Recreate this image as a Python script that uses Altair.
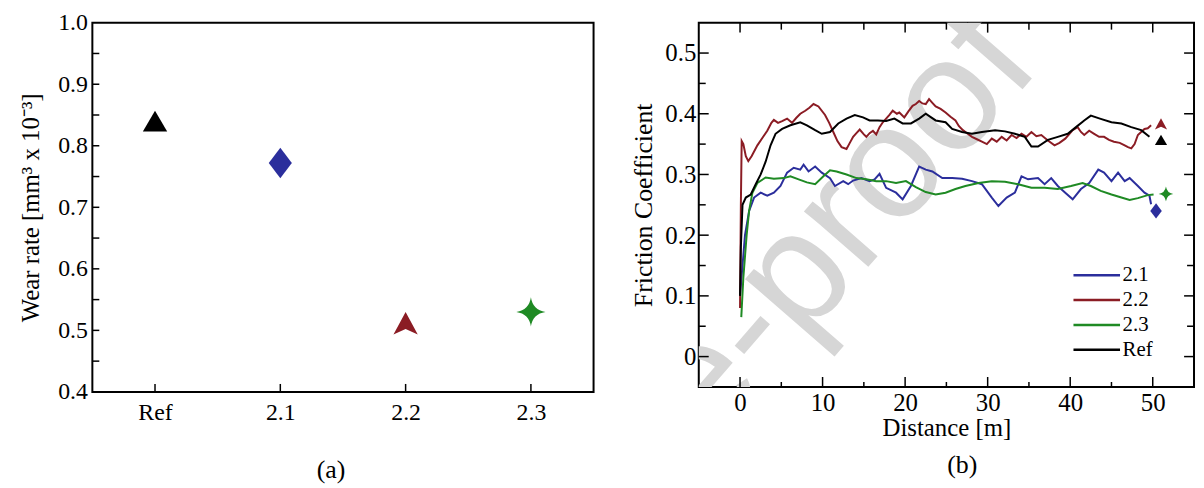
import altair as alt
import pandas as pd

# ---------------- data: panel (a) ----------------
samples_a = ["Ref", "2.1", "2.2", "2.3"]
wear_rate = [0.840, 0.772, 0.511, 0.530]
ya_labels = [0.4, 0.5, 0.6, 0.7, 0.8, 0.9, 1.0]
ya_ticks = [0.45, 0.5, 0.55, 0.6, 0.65, 0.7, 0.75, 0.8, 0.85, 0.9, 0.95]

# ---------------- data: panel (b) ----------------
series = ["2.1", "2.2", "2.3", "Ref"]
series_colors = ["#2b2e9c", "#8b1c24", "#1f8a24", "#000000"]

d_21 = [0.0, 0.3, 0.6, 1.1, 1.7, 2.5, 3.3, 4.1, 4.9, 5.7, 6.5, 7.3, 7.7, 8.3, 9.1,
        9.9, 10.9, 11.5, 12.5, 13.1, 13.7, 14.7, 15.7, 16.3, 16.9, 17.7, 18.9, 19.7,
        20.7, 21.7, 22.5, 23.3, 24.5, 25.7, 26.9, 28.1, 29.3, 30.5, 31.3, 32.3, 33.3,
        34.1, 34.9, 36.1, 36.9, 37.7, 38.5, 39.4, 40.3, 41.3, 42.3, 43.4, 44.1, 45.0,
        45.8, 46.6, 47.2, 48.2, 49.0, 49.6, 49.8]
f_21 = [0.10, 0.15, 0.20, 0.24, 0.262, 0.270, 0.265, 0.270, 0.281, 0.303, 0.311, 0.308,
        0.316, 0.305, 0.313, 0.303, 0.294, 0.281, 0.289, 0.284, 0.290, 0.294, 0.289,
        0.292, 0.301, 0.278, 0.270, 0.259, 0.281, 0.313, 0.308, 0.305, 0.294, 0.294,
        0.293, 0.289, 0.284, 0.262, 0.248, 0.262, 0.270, 0.297, 0.292, 0.294, 0.284,
        0.294, 0.281, 0.270, 0.259, 0.276, 0.286, 0.308, 0.303, 0.289, 0.303, 0.289,
        0.294, 0.281, 0.270, 0.265, 0.251]

d_22 = [0.0, 0.1, 0.2, 0.4, 0.7, 1.0, 1.4, 2.1, 2.7, 3.3, 3.8, 4.1, 4.6, 5.1, 5.7,
        6.3, 6.8, 7.3, 7.9, 8.4, 8.9, 9.5, 10.3, 10.8, 11.3, 11.8, 12.3, 12.9, 13.3,
        13.7, 14.1, 14.5, 15.0, 15.3, 15.7, 16.1, 16.5, 16.9, 17.3, 17.7, 18.1, 18.5,
        19.0, 19.3, 19.9, 20.4, 20.9, 21.3, 21.7, 22.1, 22.5, 22.9, 23.3, 23.7, 24.3,
        24.9, 25.5, 26.1, 26.5, 27.0, 27.5, 28.1, 28.7, 29.3, 29.9, 30.5, 31.1, 31.7,
        32.3, 32.9, 33.5, 34.1, 34.7, 35.3, 35.9, 36.5, 37.3, 38.1, 38.7, 39.4, 40.3,
        40.9, 41.3, 41.7, 42.3, 42.9, 43.5, 44.1, 44.7, 45.3, 46.0, 46.6, 47.0, 47.4,
        47.8, 48.2, 48.6, 49.0, 49.4, 49.8]
f_22 = [0.08, 0.25, 0.355, 0.350, 0.330, 0.322, 0.330, 0.348, 0.360, 0.372,
        0.385, 0.390, 0.385, 0.388, 0.392, 0.385, 0.393, 0.400, 0.405, 0.410,
        0.416, 0.412, 0.398, 0.385, 0.370, 0.355, 0.345, 0.342, 0.352, 0.362,
        0.368, 0.374, 0.366, 0.362, 0.368, 0.372, 0.366, 0.378, 0.386, 0.392,
        0.398, 0.405, 0.400, 0.402, 0.394, 0.404, 0.413, 0.416, 0.421, 0.417,
        0.416, 0.424, 0.418, 0.412, 0.408, 0.402, 0.395, 0.389, 0.380, 0.373,
        0.368, 0.362, 0.358, 0.354, 0.350, 0.359, 0.354, 0.362, 0.356, 0.365,
        0.360, 0.367, 0.362, 0.370, 0.363, 0.365, 0.356, 0.348, 0.352, 0.359,
        0.373, 0.378, 0.370, 0.365, 0.372, 0.367, 0.362, 0.362, 0.357, 0.354,
        0.352, 0.348, 0.345, 0.343, 0.350, 0.365, 0.370, 0.375, 0.376, 0.381]

d_23 = [0.15, 0.4, 0.8, 1.1, 1.5, 2.1, 3.1, 4.1, 5.3, 6.1, 7.1, 8.1, 9.1, 10.1, 10.9,
        11.7, 12.9, 14.1, 15.3, 16.5, 17.7, 18.9, 20.1, 21.3, 22.5, 23.7, 24.9, 26.1,
        27.3, 28.9, 30.5, 32.1, 33.7, 35.3, 36.9, 38.5, 40.1, 41.5, 42.5, 43.7, 45.0,
        46.2, 47.2, 48.2, 49.4, 50.1]
f_23 = [0.065, 0.13, 0.20, 0.24, 0.27, 0.286, 0.295, 0.293, 0.294, 0.297, 0.292, 0.287,
        0.284, 0.297, 0.307, 0.305, 0.300, 0.294, 0.292, 0.289, 0.289, 0.286, 0.289,
        0.279, 0.271, 0.267, 0.270, 0.276, 0.281, 0.286, 0.289, 0.288, 0.284, 0.278,
        0.278, 0.276, 0.281, 0.286, 0.281, 0.273, 0.267, 0.262, 0.258, 0.261, 0.266,
        0.267]

d_ref = [0.0, 0.1, 0.3, 0.7, 1.3, 1.9, 2.5, 3.1, 3.7, 4.3, 5.1, 6.1, 7.3, 8.1, 9.1,
         9.9, 10.9, 11.9, 12.9, 13.9, 14.9, 15.7, 16.7, 17.7, 18.7, 19.7, 20.7, 21.7,
         22.5, 23.7, 24.9, 25.7, 26.9, 28.1, 29.3, 30.9, 32.1, 33.3, 34.5, 35.3, 36.1,
         37.3, 38.5, 39.7, 40.7, 41.7, 42.5, 43.6, 45.0, 46.2, 47.4, 48.6, 49.6]
f_ref = [0.10, 0.18, 0.25, 0.262, 0.267, 0.284, 0.300, 0.321, 0.348, 0.367, 0.375,
         0.381, 0.386, 0.381, 0.373, 0.367, 0.370, 0.384, 0.392, 0.398, 0.394, 0.389,
         0.389, 0.388, 0.392, 0.384, 0.384, 0.392, 0.400, 0.389, 0.386, 0.375, 0.370,
         0.367, 0.370, 0.373, 0.371, 0.367, 0.362, 0.346, 0.346, 0.357, 0.362, 0.367,
         0.378, 0.389, 0.397, 0.392, 0.386, 0.384, 0.378, 0.373, 0.362]

end_d = [50.4, 51.0, 51.6, 51.0]
end_f = [0.240, 0.383, 0.268, 0.357]

xb_major = [0, 10, 20, 30, 40, 50]
xb_minor = [5, 15, 25, 35, 45]
yb_major = [0, 0.1, 0.2, 0.3, 0.4, 0.5]
yb_minor = [0.05, 0.15, 0.25, 0.35, 0.45]

# ---------------- styling ----------------
FONT = "Liberation Serif"
WA, HA = 505, 372
WB, HB = 499, 367
SPACING = 106

marker_paths = [
    "M0,-1.25L0.95,0L0,1.25L-0.95,0Z",                       # diamond (2.1)
    "M0,-0.95L1,0.9L0,0.45L-1,0.9Z",                          # arrow head (2.2)
    "M0,-1.2Q0.15,-0.15,1.2,0Q0.15,0.15,0,1.2Q-0.15,0.15,-1.2,0Q-0.15,-0.15,0,-1.2Z",  # star (2.3)
    "M0,-0.85L1,0.85L-1,0.85Z",                               # triangle (Ref)
]
color_scale = alt.Scale(domain=series, range=series_colors)
shape_scale = alt.Scale(domain=series, range=marker_paths)

# ---------------- panel (a) ----------------
dfa = pd.DataFrame({"sample": samples_a, "wear": wear_rate})
xa = alt.X("sample:N",
           scale=alt.Scale(type="point", domain=samples_a, padding=0.5),
           axis=alt.Axis(labelFontSize=24, labelPadding=9, labelAngle=0),
           title=None)
ya = alt.Y("wear:Q",
           scale=alt.Scale(domain=[0.4, 1.0], nice=False, zero=False),
           axis=alt.Axis(values=ya_labels, format=".1f", labelFontSize=24,
                         labelPadding=5, titleFontSize=25, titlePadding=14),
           title="Wear rate [mm³ x 10⁻³]")

pts_a = alt.Chart(dfa).mark_point(filled=True, opacity=1, size=600, strokeWidth=0).encode(
    x=xa, y=ya,
    color=alt.Color("sample:N", scale=color_scale, legend=None),
    shape=alt.Shape("sample:N", scale=shape_scale, legend=None),
)
ticks_ay = alt.Chart(pd.DataFrame({"wear": ya_ticks})).mark_rule(
    color="black", strokeWidth=1.5).encode(y=ya, x=alt.value(0), x2=alt.value(7))
ticks_ax = alt.Chart(pd.DataFrame({"sample": samples_a})).mark_rule(
    color="black", strokeWidth=1.5).encode(x=xa, y=alt.value(HA), y2=alt.value(HA - 8))

left = alt.layer(ticks_ay, ticks_ax, pts_a).properties(
    width=WA, height=HA,
    title=alt.TitleParams(text="(a)", orient="bottom", frame="group", fontSize=26,
                          offset=33, dx=-12),
)

# ---------------- panel (b) ----------------
rows = []
for name, ds, fs in [("2.1", d_21, f_21), ("2.2", d_22, f_22),
                     ("2.3", d_23, f_23), ("Ref", d_ref, f_ref)]:
    for d, f in zip(ds, fs):
        rows.append({"dist": d, "fric": f, "sample": name})
dfb = pd.DataFrame(rows)
dfe = pd.DataFrame({"dist": end_d, "fric": end_f, "marker": series})

xb = alt.X("dist:Q",
           scale=alt.Scale(domain=[-5, 55], nice=False, zero=False),
           axis=alt.Axis(values=xb_major, format="d", labelFontSize=25, labelPadding=4,
                         titleFontSize=25, titlePadding=0),
           title="Distance [m]")
yb = alt.Y("fric:Q",
           scale=alt.Scale(domain=[-0.05, 0.55], nice=False, zero=False),
           axis=alt.Axis(values=yb_major, format="~g", labelFontSize=25, labelPadding=3,
                         titleFontSize=26, titlePadding=8),
           title="Friction Coefficient")

legend_b = alt.Legend(orient="none", legendX=376, legendY=242, title=None,
                      symbolType="stroke", symbolSize=2200, symbolStrokeWidth=2.5,
                      labelFont=FONT, labelFontSize=21, labelColor="black",
                      labelOffset=1, clipHeight=25, rowPadding=0, padding=0)

watermark = alt.Chart(pd.DataFrame({"wm": ["Pre-proof"]})).mark_text(
    font="Liberation Sans", fontSize=162, angle=311, color="#d6d6d6", clip=True,
    align="center", baseline="middle").encode(
    text="wm:N", x=alt.value(88), y=alt.value(266.5))

lines_b = alt.Chart(dfb).mark_line(strokeWidth=2, clip=True).encode(
    x=xb, y=yb,
    color=alt.Color("sample:N", scale=color_scale, legend=legend_b))

# end-of-run markers: one layer per series so no extra legend is generated
end_layers = []
for i, name in enumerate(series):
    end_layers.append(
        alt.Chart(dfe[dfe["marker"] == name]).mark_point(
            filled=True, opacity=1, size=150, strokeWidth=0,
            shape=marker_paths[i], color=series_colors[i]
        ).encode(x=xb, y=yb)
    )

rule = dict(color="black", strokeWidth=1.5)
ymaj = pd.DataFrame({"fric": yb_major})
ymin = pd.DataFrame({"fric": yb_minor})
xmaj = pd.DataFrame({"dist": xb_major})
xmin = pd.DataFrame({"dist": xb_minor})
tick_layers = [
    alt.Chart(ymaj).mark_rule(**rule).encode(y=yb, x=alt.value(0), x2=alt.value(10)),
    alt.Chart(ymin).mark_rule(**rule).encode(y=yb, x=alt.value(0), x2=alt.value(7)),
    alt.Chart(ymaj).mark_rule(**rule).encode(y=yb, x=alt.value(WB), x2=alt.value(WB - 10)),
    alt.Chart(ymin).mark_rule(**rule).encode(y=yb, x=alt.value(WB), x2=alt.value(WB - 7)),
    alt.Chart(xmaj).mark_rule(**rule).encode(x=xb, y=alt.value(HB), y2=alt.value(HB - 10)),
    alt.Chart(xmin).mark_rule(**rule).encode(x=xb, y=alt.value(HB), y2=alt.value(HB - 5)),
    alt.Chart(xmaj).mark_rule(**rule).encode(x=xb, y=alt.value(0), y2=alt.value(10)),
    alt.Chart(xmin).mark_rule(**rule).encode(x=xb, y=alt.value(0), y2=alt.value(7)),
]

right = alt.layer(watermark, *tick_layers, lines_b, *end_layers).properties(
    width=WB, height=HB,
    title=alt.TitleParams(text="(b)", orient="bottom", frame="group", fontSize=26,
                          offset=12, dx=16),
)

chart = alt.hconcat(left, right, spacing=SPACING, bounds="flush").resolve_scale(
    color="independent", shape="independent"
).properties(
    padding={"left": 10, "top": 0, "right": 0, "bottom": 0}
).configure(
    font=FONT
).configure_view(
    stroke="black", strokeWidth=2
).configure_axis(
    grid=False, domain=False, ticks=False, tickSize=0,
    labelColor="black", titleColor="black", labelFont=FONT, titleFont=FONT,
    titleFontWeight="normal",
).configure_title(
    font=FONT, fontWeight="normal", color="black"
)

chart.save("out.html", embed_options={"renderer": "svg", "actions": False})
